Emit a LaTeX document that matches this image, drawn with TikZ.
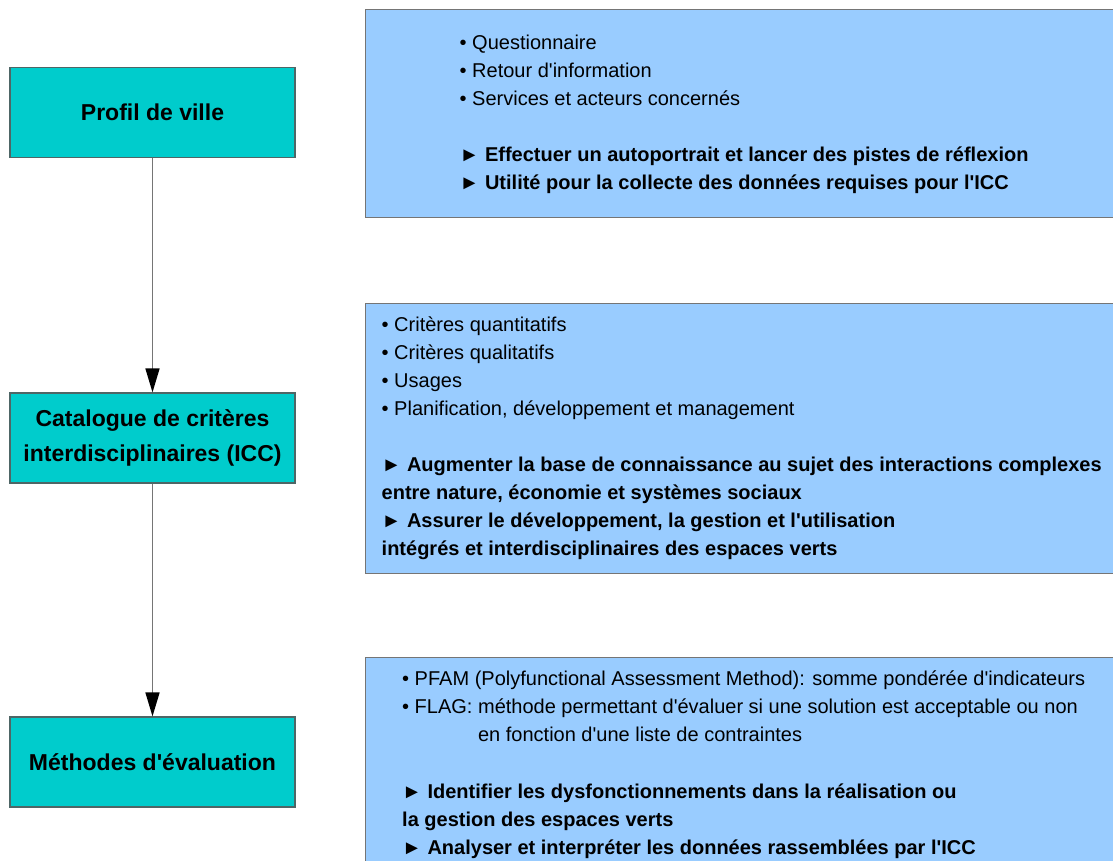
\documentclass[tikz,border=0pt]{standalone}
\usepackage{fontspec}
\setmainfont{Liberation Sans}[Ligatures=TeXOff]
\usetikzlibrary{arrows.meta}
\definecolor{stageteal}{HTML}{00CCCC}
\definecolor{infoblue}{HTML}{99CCFF}
\definecolor{stageline}{HTML}{4E6666}
\definecolor{linkgray}{HTML}{757575}
\tikzset{
  stagebox/.style={draw=stageline, line width=1.2pt, fill=stageteal,
    minimum width=285pt, minimum height=90pt, inner sep=0pt,
    align=center, font=\fontsize{23}{35}\selectfont\bfseries},
  infobox/.style={draw=linkgray, line width=1.2pt, fill=infoblue,
    anchor=north west, inner sep=0pt, minimum width=760pt},
  infotext/.style={anchor=north west, inner sep=0pt, align=left,
    font=\fontsize{20}{28}\selectfont},
  link/.style={draw=linkgray, line width=1.5pt,
    -{Triangle[length=24pt,width=14pt,color=black]}}
}
\begin{document}
\begin{tikzpicture}[x=1pt,y=-1pt]
  \useasboundingbox (0,0) rectangle (1113,860);
  % left column
  \node[stagebox] (profil) at (152.5,112.5) {Profil de ville};
  \node[stagebox] (catalogue) at (152.5,438) {Catalogue de critères\\interdisciplinaires (ICC)};
  \node[stagebox] (methodes) at (152.5,762) {Méthodes d'évaluation};
  \begin{scope}[link]
    \draw (profil) -- (catalogue);
    \draw (catalogue) -- (methodes);
  \end{scope}
  % right column
  \node[infobox, minimum height=208pt] (profilinfo) at (365,9) {};
  \node[infobox, minimum height=270pt] (catalogueinfo) at (365,303) {};
  \node[infobox, minimum height=230pt] (methodesinfo) at (365,657) {};
  \node[infotext] (profiltext) at (459.5,29.5) {\rule{0pt}{20pt}• Questionnaire\\
    • Retour d'information\\
    • Services et acteurs concernés\\[28pt]
    \textbf{► Effectuer un autoportrait et lancer des pistes de réflexion}\\
    \textbf{► Utilité pour la collecte des données requises pour l'ICC}};
  \node[infotext] (cataloguetext) at (381.5,311.5) {\rule{0pt}{20pt}• Critères quantitatifs\\
    • Critères qualitatifs\\
    • Usages\\
    • Planification, développement et management\\[28pt]
    \textbf{► Augmenter la base de connaissance au sujet des interactions complexes}\\
    \textbf{entre nature, économie et systèmes sociaux}\\
    \textbf{► Assurer le développement, la gestion et l'utilisation}\\
    \textbf{intégrés et interdisciplinaires des espaces verts}};
  \node[infotext] (methodestext) at (402,665.5) {\rule{0pt}{20pt}• PFAM (Polyfunctional Assessment Method): somme pondérée d'indicateurs\\
    • FLAG: méthode permettant d'évaluer si une solution est acceptable ou non\\
    \hphantom{• FLAG: }en fonction d'une liste de contraintes\\[29pt]
    \textbf{► Identifier les dysfonctionnements dans la réalisation ou}\\
    \textbf{la gestion des espaces verts}\\
    \textbf{► Analyser et interpréter les données rassemblées par l'ICC}};
\end{tikzpicture}
\end{document}
